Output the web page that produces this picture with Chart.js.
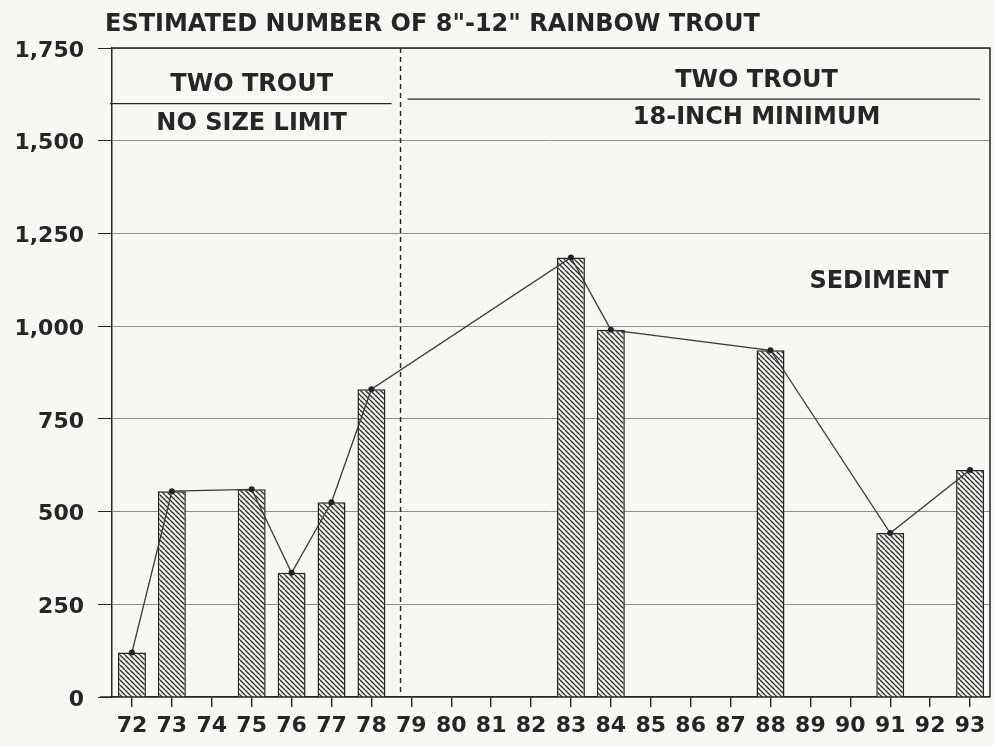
<!DOCTYPE html>
<html>
<head>
<meta charset="utf-8">
<script src="https://cdn.jsdelivr.net/npm/chart.js@4/dist/chart.umd.min.js"></script>
<style>
  body { margin: 0; background: #f7f7f5; }
  #wrap { width: 994px; height: 746px; }
</style>
</head>
<body>
<div id="wrap"><canvas id="troutChart"></canvas></div>
<script>
const years = ['72', '73', '74', '75', '76', '77', '78', '79', '80', '81', '82',
               '83', '84', '85', '86', '87', '88', '89', '90', '91', '92', '93'];
// no estimate in the empty years
const troutCounts = [120, 555, null, 560, 335, 525, 830, null, null, null, null,
                     1185, 990, null, null, null, 935, null, null, 442, null, 612];
const yMax = 1750;
const yStep = 250;

const chartTitle = 'ESTIMATED NUMBER OF 8"-12" RAINBOW TROUT';
const leftRule = ['TWO TROUT', 'NO SIZE LIMIT'];
const rightRule = ['TWO TROUT', '18-INCH MINIMUM'];
const sedimentLabel = 'SEDIMENT';

const ink = '#262626';
const font = '"DejaVu Sans", sans-serif';

function makeHatch() {
    const s = 5;
    const c = document.createElement('canvas');
    c.width = s;
    c.height = s;
    const g = c.getContext('2d');
    g.fillStyle = '#f3f3f1';
    g.fillRect(0, 0, s, s);
    g.strokeStyle = '#2a2a2a';
    g.lineWidth = 1.3;
    g.beginPath();
    for (let k = -1; k <= 1; k++) {
        g.moveTo(k * s, 0);
        g.lineTo(k * s + s, s);
    }
    g.stroke();
    return g.createPattern(c, 'repeat');
}

const decorations = {
    id: 'decorations',
    beforeDraw(chart) {
        const ctx = chart.ctx;
        ctx.save();
        ctx.fillStyle = '#f7f7f5';
        ctx.fillRect(0, 0, chart.width, chart.height);
        ctx.restore();
    },
    afterDraw(chart) {
        const { ctx, chartArea: a, scales: { x, y } } = chart;
        ctx.save();

        // title
        ctx.fillStyle = ink;
        ctx.font = 'bold 24px ' + font;
        ctx.textBaseline = 'middle';
        ctx.textAlign = 'left';
        ctx.fillText(chartTitle, 105, 25);

        // frame: top and right, bottom axis runs a little past the y axis
        ctx.strokeStyle = ink;
        ctx.lineWidth = 1.5;
        ctx.beginPath();
        ctx.moveTo(a.left, a.top);
        ctx.lineTo(a.right, a.top);
        ctx.lineTo(a.right, a.bottom);
        ctx.moveTo(a.left - 12, a.bottom);
        ctx.lineTo(a.left, a.bottom);
        ctx.stroke();

        // regulation change between 78 and 79
        const p6 = x.getPixelForValue(6), p7 = x.getPixelForValue(7);
        const dashX = p6 + 0.73 * (p7 - p6);
        ctx.setLineDash([5, 4]);
        ctx.lineWidth = 1.4;
        ctx.beginPath();
        ctx.moveTo(dashX, a.top);
        ctx.lineTo(dashX, a.bottom);
        ctx.stroke();
        ctx.setLineDash([]);

        // rules under the regulation headings
        ctx.lineWidth = 1.2;
        ctx.beginPath();
        const ruleL = y.getPixelForValue(1600);
        const ruleR = y.getPixelForValue(1612);
        ctx.moveTo(a.left - 2, ruleL);
        ctx.lineTo(dashX - 9, ruleL);
        ctx.moveTo(dashX + 7, ruleR);
        ctx.lineTo(a.right - 10, ruleR);
        ctx.stroke();

        ctx.font = 'bold 24px ' + font;
        ctx.textAlign = 'center';
        const lx = x.getPixelForValue(3);
        ctx.fillText(leftRule[0], lx, y.getPixelForValue(1652));
        ctx.fillText(leftRule[1], lx, y.getPixelForValue(1545));
        const rx = x.getPixelForValue(15) + 0.65 * (x.getPixelForValue(16) - x.getPixelForValue(15));
        ctx.fillText(rightRule[0], rx, y.getPixelForValue(1661));
        ctx.fillText(rightRule[1], rx, y.getPixelForValue(1561));

        const sx = x.getPixelForValue(18) + 0.72 * (x.getPixelForValue(19) - x.getPixelForValue(18));
        ctx.fillText(sedimentLabel, sx, y.getPixelForValue(1119));

        ctx.restore();
    }
};

const ctx = document.getElementById('troutChart').getContext('2d');
const troutChart = new Chart(ctx, {
    type: 'bar',
    data: {
        labels: years,
        datasets: [
            {
                type: 'line',
                data: troutCounts,
                spanGaps: true,
                borderColor: '#3a3a3a',
                borderWidth: 1.3,
                pointRadius: 3,
                pointBackgroundColor: '#222',
                pointBorderColor: '#222',
                pointBorderWidth: 0,
                tension: 0,
                order: 0
            },
            {
                data: troutCounts,
                backgroundColor: makeHatch(),
                borderColor: '#222',
                borderWidth: 1.5,
                borderSkipped: 'bottom',
                barPercentage: 0.7,
                categoryPercentage: 1,
                order: 1
            }
        ]
    },
    options: {
        responsive: true,
        maintainAspectRatio: false,
        animation: false,
        layout: { padding: { top: 48, right: 3, left: 0, bottom: 0 } },
        plugins: {
            legend: { display: false },
            tooltip: { enabled: false }
        },
        scales: {
            x: {
                offset: true,
                grid: {
                    offset: false,
                    drawOnChartArea: false,
                    drawTicks: true,
                    tickLength: 10,
                    tickColor: ink,
                    lineWidth: 1.4
                },
                border: { color: ink, width: 1.5 },
                ticks: {
                    color: ink,
                    font: { family: font, size: 22, weight: 'bold' },
                    padding: 6,
                    maxRotation: 0,
                    autoSkip: false
                },
                afterFit(scale) { scale.height = 49; }
            },
            y: {
                min: 0,
                max: yMax,
                ticks: {
                    stepSize: yStep,
                    color: ink,
                    font: { family: font, size: 22, weight: 'bold' },
                    padding: 14,
                    labelOffset: 3,
                    callback: v => v.toLocaleString('en-US')
                },
                grid: {
                    color: '#8d8d8d',
                    lineWidth: 1,
                    tickLength: 14,
                    tickColor: ink
                },
                border: { color: ink, width: 1.5 },
                afterFit(scale) { scale.width = 112; }
            }
        }
    },
    plugins: [decorations]
});
</script>
</body>
</html>
